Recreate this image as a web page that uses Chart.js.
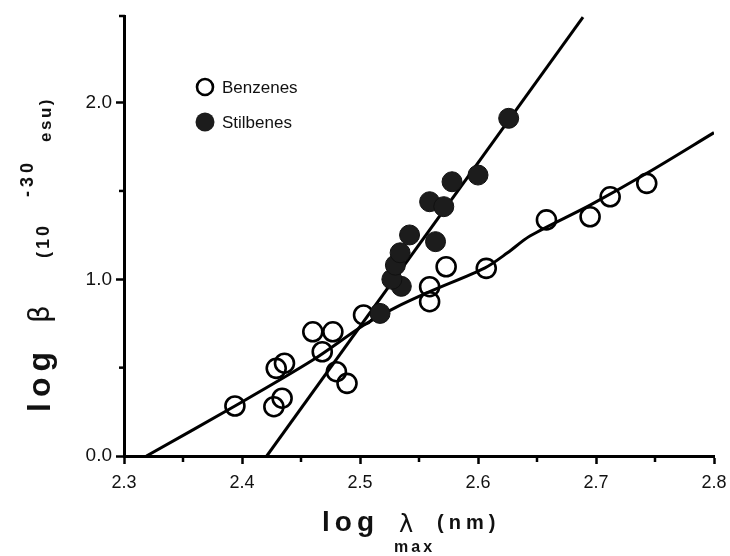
<!DOCTYPE html>
<html>
<head>
<meta charset="utf-8">
<script src="https://cdn.jsdelivr.net/npm/chart.js@4.4.1/dist/chart.umd.min.js"></script>
<style>
  html, body { margin: 0; padding: 0; background: #fff; }
  #c { display: block; }
</style>
</head>
<body>
<canvas id="c" width="730" height="556"></canvas>
<script>
// ---- Data ----
const benzX = [2.394, 2.429, 2.436, 2.427, 2.434, 2.460, 2.477, 2.468, 2.480, 2.489, 2.503, 2.573, 2.559, 2.559, 2.607, 2.658, 2.695, 2.712, 2.743];
const benzY = [0.283, 0.496, 0.525, 0.279, 0.327, 0.703, 0.703, 0.590, 0.477, 0.411, 0.798, 1.071, 0.958, 0.873, 1.062, 1.336, 1.354, 1.467, 1.543];
const stilX = [2.517, 2.535, 2.527, 2.530, 2.534, 2.542, 2.564, 2.559, 2.571, 2.578, 2.600, 2.626];
const stilY = [0.807, 0.960, 1.000, 1.080, 1.150, 1.251, 1.213, 1.439, 1.411, 1.552, 1.590, 1.911];
// hand-drawn fit curves
const benzFitX = [2.319, 2.394, 2.460, 2.503, 2.530, 2.559, 2.606, 2.625, 2.644, 2.695, 2.743, 2.800];
const benzFitY = [0.000, 0.283, 0.543, 0.740, 0.840, 0.930, 1.065, 1.150, 1.245, 1.420, 1.600, 1.830];
const stilFitX = [2.421, 2.689];
const stilFitY = [0.000, 2.484];
// axes
const xMin = 2.3, xMax = 2.8, xStep = 0.05;
const yMin = 0.0, yMax = 2.49, yStep = 0.5;
const legendLabels = ["Benzenes", "Stilbenes"];
const yTitleParts = ["log", "\u03b2", "(10", "-30", "esu)"];
const xTitleParts = ["log", "\u03bb", "max", "(nm)"];

const toPts = (xs, ys) => xs.map((x, i) => ({ x: x, y: ys[i] }));
const isMajor = (v, unit) => Math.abs(v / unit - Math.round(v / unit)) < 1e-6;
const SANS = '"Liberation Sans", Arial, sans-serif';

function spaced(ctx, text, x, y, gap) {
  let cx = x;
  for (const ch of text) {
    ctx.fillText(ch, cx, y);
    cx += ctx.measureText(ch).width + gap;
  }
}

const extras = {
  id: 'extras',
  afterDraw(chart) {
    const ctx = chart.ctx;
    const xs = chart.scales.x, ys = chart.scales.y;
    const area = chart.chartArea;
    ctx.save();
    // minor ticks
    ctx.strokeStyle = '#000';
    ctx.lineWidth = 2.5;
    xs.ticks.forEach(t => {
      if (!isMajor(t.value, 0.1)) {
        const p = xs.getPixelForValue(t.value);
        ctx.beginPath(); ctx.moveTo(p, area.bottom); ctx.lineTo(p, area.bottom + 6); ctx.stroke();
      }
    });
    ys.ticks.forEach(t => {
      if (!isMajor(t.value, 1)) {
        const p = ys.getPixelForValue(t.value);
        ctx.beginPath(); ctx.moveTo(area.left, p); ctx.lineTo(area.left - 5, p); ctx.stroke();
      }
    });
    // top end cap of y axis
    ctx.beginPath(); ctx.moveTo(area.left + 1, area.top); ctx.lineTo(area.left - 5, area.top); ctx.stroke();

    // legend
    ctx.fillStyle = '#111';
    ctx.textBaseline = 'middle';
    ctx.textAlign = 'left';
    ctx.font = '17px ' + SANS;
    ctx.lineWidth = 2.6;
    ctx.beginPath(); ctx.arc(205, 87, 8, 0, Math.PI * 2); ctx.stroke();
    ctx.fillText(legendLabels[0], 222, 88);
    ctx.beginPath(); ctx.arc(205, 122, 9.5, 0, Math.PI * 2); ctx.fillStyle = '#1c1c1c'; ctx.fill();
    ctx.fillStyle = '#111';
    ctx.fillText(legendLabels[1], 222, 123);

    // x title
    ctx.textBaseline = 'alphabetic';
    ctx.font = 'bold 28px ' + SANS;
    spaced(ctx, xTitleParts[0], 322, 531, 5);
    ctx.font = '24px "DejaVu Sans", sans-serif';
    ctx.fillText(xTitleParts[1], 399, 532);
    ctx.font = 'bold 16px ' + SANS;
    spaced(ctx, xTitleParts[2], 394, 552, 3);
    ctx.font = 'bold 20px ' + SANS;
    spaced(ctx, xTitleParts[3], 437, 529, 5);

    // y title (rotated)
    ctx.translate(49, 0);
    ctx.rotate(-Math.PI / 2);
    // rotated coords: x = -canvasY, y = canvasX - 49
    ctx.font = 'bold 32px ' + SANS;
    spaced(ctx, yTitleParts[0], -412, 1, 6);
    ctx.font = '28px "DejaVu Sans", sans-serif';
    ctx.fillText(yTitleParts[1], -323, 0);
    ctx.font = 'bold 18px ' + SANS;
    spaced(ctx, yTitleParts[2], -258, 0, 3);
    spaced(ctx, yTitleParts[3], -197, -16, 4);
    ctx.font = 'bold 17px ' + SANS;
    spaced(ctx, yTitleParts[4], -142, 2, 2.5);
    ctx.restore();
  }
};

new Chart(document.getElementById('c'), {
  type: 'scatter',
  data: {
    datasets: [
      { label: legendLabels[1], data: toPts(stilX, stilY), pointRadius: 10, pointBackgroundColor: '#1c1c1c', pointBorderColor: '#111', pointBorderWidth: 1, showLine: false },
      { label: legendLabels[0], data: toPts(benzX, benzY), pointRadius: 9.5, pointBackgroundColor: 'rgba(0,0,0,0)', pointBorderColor: '#000', pointBorderWidth: 2.6, showLine: false },
      { label: 'benzFit', data: toPts(benzFitX, benzFitY), showLine: true, pointRadius: 0, borderColor: '#000', borderWidth: 3, tension: 0.3, fill: false },
      { label: 'stilFit', data: toPts(stilFitX, stilFitY), showLine: true, pointRadius: 0, borderColor: '#000', borderWidth: 3, fill: false }
    ]
  },
  options: {
    responsive: false,
    animation: false,
    events: [],
    layout: { padding: { top: 16, right: 16, left: 0, bottom: 0 } },
    plugins: { legend: { display: false }, tooltip: { enabled: false } },
    scales: {
      x: {
        type: 'linear', min: xMin, max: xMax,
        afterFit: s => { s.height = 100; s.paddingRight = 0; s.paddingLeft = 0; },
        border: { display: true, color: '#000', width: 3 },
        grid: { drawOnChartArea: false, drawTicks: true, tickLength: 8, tickWidth: 2.5,
                tickColor: c => (c.tick && isMajor(c.tick.value, 0.1)) ? '#000' : 'rgba(0,0,0,0)' },
        ticks: { stepSize: xStep, autoSkip: false, maxRotation: 0, padding: 8, color: '#111',
                 font: { family: SANS, size: 18 },
                 callback: v => isMajor(v, 0.1) ? v.toFixed(1) : '' }
      },
      y: {
        type: 'linear', min: yMin, max: yMax,
        afterFit: s => { s.width = 124; s.paddingTop = 0; s.paddingBottom = 0; },
        border: { display: true, color: '#000', width: 3 },
        grid: { drawOnChartArea: false, drawTicks: true, tickLength: 8, tickWidth: 2.5,
                tickColor: c => (c.tick && isMajor(c.tick.value, 1)) ? '#000' : 'rgba(0,0,0,0)' },
        ticks: { stepSize: yStep, includeBounds: false, autoSkip: false, padding: 4, color: '#111',
                 font: { family: SANS, size: 19 },
                 callback: v => isMajor(v, 1) ? v.toFixed(1) : '' }
      }
    }
  },
  plugins: [extras]
});
</script>
</body>
</html>
